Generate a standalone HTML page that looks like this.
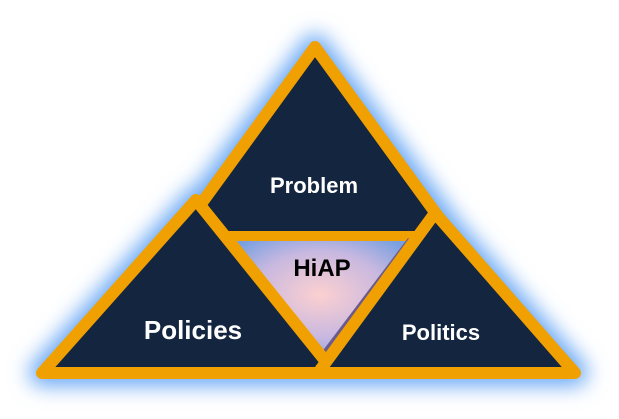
<!DOCTYPE html>
<html><head><style>body{margin:0;background:#fff}svg{display:block}</style></head><body>
<svg width="619" height="419" viewBox="0 0 619 419" xmlns="http://www.w3.org/2000/svg">
<defs>
<filter id="g" x="-20%" y="-20%" width="140%" height="140%"><feGaussianBlur stdDeviation="10"/></filter>
<radialGradient id="p" cx="0.5" cy="0.45" r="0.6"><stop offset="0" stop-color="#fcd0d0"/><stop offset="0.6" stop-color="#c8b8e0"/><stop offset="1" stop-color="#7aa0e0"/></radialGradient>
</defs>
<g filter="url(#g)" fill="#6aa8f4" stroke="#6aa8f4" stroke-width="26" stroke-linejoin="round">
<polygon points="315,47 455,237 175,237"/>
<polygon points="196,200 335,373 42,373"/>
<polygon points="435,213 575,373 318,373"/>
</g>
<polygon points="315,47 453,237 177,237" fill="#13253f" stroke="#f0a000" stroke-width="12" stroke-linejoin="round"/>
<polygon points="228,241 412,241 322,360" fill="url(#p)"/>
<line x1="412" y1="241" x2="322" y2="360" stroke="#6a5a90" stroke-width="10"/>
<polygon points="196,200 335,373 42,373" fill="#13253f" stroke="#f0a000" stroke-width="12" stroke-linejoin="round"/>
<polygon points="435,213 575,373 318,373" fill="#13253f" stroke="#f0a000" stroke-width="12" stroke-linejoin="round"/>
<g font-family="Liberation Sans, sans-serif" font-weight="bold" text-anchor="middle">
<text x="314" y="193" font-size="22" fill="#fff">Problem</text>
<text x="322" y="276" font-size="24" fill="#000">HiAP</text>
<text x="193" y="339" font-size="26" fill="#fff">Policies</text>
<text x="441" y="340" font-size="22" fill="#fff">Politics</text>
</g>
</svg>
</body></html>
